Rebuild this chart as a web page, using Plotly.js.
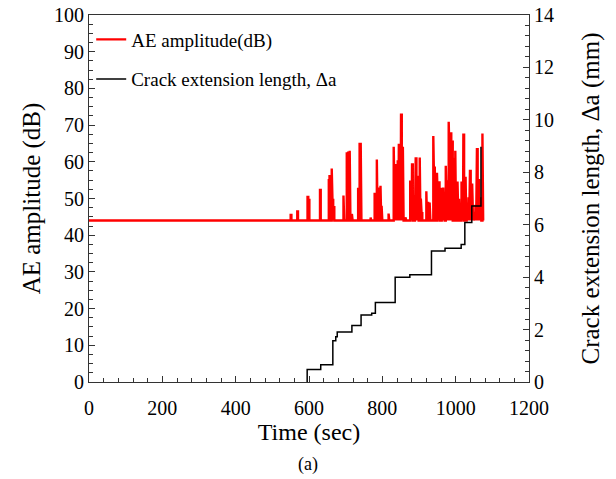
<!DOCTYPE html>
<html>
<head>
<meta charset="utf-8">
<script src="https://cdn.plot.ly/plotly-3.0.1.min.js"></script>
<style>html,body{margin:0;padding:0;background:#fff;}#chart{width:616px;height:479px;}</style>
</head>
<body>
<div id="chart"></div>
<script>
// AE hits: time (sec) and amplitude (dB); baseline level 44 dB
const aeBaseline = 44;
const aeEnd = 1076;
const hitTime = [551,569,597,600,631,655,657,663,665,668,695,704,708,712,718,735,739,742,769,
  780,786,790,796,799,818,832,834,837,840,843,846,849,852,855,857,864,
  877,879,882,884,887,890,892,895,898,900,903,906,908,
  921,926,930,940,942,944,947,950,952,955,957,960,963,965,967,969,971,974,976,978,980,
  982,984,987,989,991,993,996,998,1000,1003,1006,1008,1010,
  1017,1019,1022,1024,1028,1031,1033,1036,1038,1040,1042,1044,1046,1048,
  1052,1055,1059,1061,1063,1066,1069,1071,1074];
const hitAmp = [45.5,46.5,50.4,49.6,52.3,55,56.4,58.2,49.6,47.6,50.8,62.6,62.8,63,45.8,52.9,65.2,65.2,44.8,
  51.6,60.6,53,53.5,48,45.9,64.1,52,59.1,51.4,60.1,64.6,55,72.8,56,64.1,44.9,
  54.9,50,59.3,48,50.8,47,60.9,48,55.9,47,61.2,50,46,
  52,49.1,48.9,67,55,58.7,52,57,50,54.4,45,48,52.9,48,53,47,46,58.9,50,55,48,
  70.9,62,67.7,58,65.5,55,61.1,52,63,50,54.6,46,49.9,
  54.6,48,67.4,50,55.9,48,46,50,45,57.5,48,52,54.1,46,
  46,48,63.4,50,55,47,50,48,67.7];

// Crack extension length (mm), step points (value holds until next time)
const crackTime = [595,595,632,665,673,677,717,742,771,781,835,875,934,971,1015,1025,1044,1069];
const crackLen  = [0,0.48,0.66,1.57,1.73,1.91,2.16,2.56,2.62,3.03,4.0,4.09,5.0,5.1,5.25,6.08,6.71,8.97];

const seriesNames = ['AE amplitude(dB)', 'Crack extension length, \u0394a'];
const axisTitles = {x: 'Time (sec)', y: 'AE amplitude (dB)', y2: 'Crack extension length, \u0394a (mm)'};
const caption = '(a)';

// Build the AE trace: flat baseline with a narrow vertical bar at each hit
const aeX = [0], aeY = [aeBaseline];
for (let i = 0; i < hitTime.length; i++) {
  const t = hitTime[i], a = hitAmp[i];
  aeX.push(t - 1, t - 1, t + 1, t + 1);
  aeY.push(aeBaseline, a, a, aeBaseline);
}
aeX.push(aeEnd); aeY.push(aeBaseline);

const FONT = 'Liberation Serif, Times New Roman, serif';

const traces = [
  {x: aeX, y: aeY, type: 'scatter', mode: 'lines', name: seriesNames[0],
   line: {color: '#ff0000', width: 2.4}, yaxis: 'y', legendgroup: 'a'},
  {x: crackTime, y: crackLen, type: 'scatter', mode: 'lines', name: seriesNames[1],
   line: {color: '#000000', width: 1.5, shape: 'hv'}, yaxis: 'y2', legendgroup: 'b'}
];

const axisCommon = {
  showgrid: false, zeroline: false, showline: true, linecolor: '#333', linewidth: 1,
  ticks: 'inside', ticklen: 6, tickcolor: '#333', tickwidth: 1,
  tickfont: {family: FONT, size: 20, color: '#000'}
};

const layout = {
  width: 616, height: 479,
  margin: {l: 89, r: 87, t: 15, b: 97},
  paper_bgcolor: '#fff', plot_bgcolor: '#fff',
  showlegend: true,
  legend: {x: 0.005, y: 0.985, xanchor: 'left', yanchor: 'top', bgcolor: 'rgba(0,0,0,0)',
           font: {family: FONT, size: 19, color: '#000'}, tracegroupgap: 12, traceorder: 'grouped'},
  xaxis: Object.assign({}, axisCommon, {
    range: [0, 1200], dtick: 200, tick0: 0, mirror: true, ticklabelstandoff: 8,
    minor: {dtick: 40, ticks: 'inside', ticklen: 4, tickcolor: '#333', showgrid: false},
    title: {text: axisTitles.x, font: {family: FONT, size: 24, color: '#000'}, standoff: 0}
  }),
  yaxis: Object.assign({}, axisCommon, {
    range: [0, 100], dtick: 10, tick0: 0,
    minor: {dtick: 2.5, ticks: 'inside', ticklen: 4, tickcolor: '#333', showgrid: false},
    title: {text: axisTitles.y, font: {family: FONT, size: 25, color: '#000'}, standoff: 6}
  }),
  yaxis2: Object.assign({}, axisCommon, {
    range: [0, 14], dtick: 2, tick0: 0, overlaying: 'y', side: 'right',
    minor: {dtick: 0.4, ticks: 'inside', ticklen: 4, tickcolor: '#333', showgrid: false},
    title: {text: axisTitles.y2, font: {family: FONT, size: 25, color: '#000'}, standoff: 28}
  }),
  annotations: [{
    text: caption, xref: 'paper', yref: 'paper', x: 0.498, y: -0.226,
    xanchor: 'center', yanchor: 'middle', showarrow: false,
    font: {family: FONT, size: 18, color: '#000'}
  }]
};

Plotly.newPlot('chart', traces, layout, {staticPlot: true, displayModeBar: false});
</script>
</body>
</html>
